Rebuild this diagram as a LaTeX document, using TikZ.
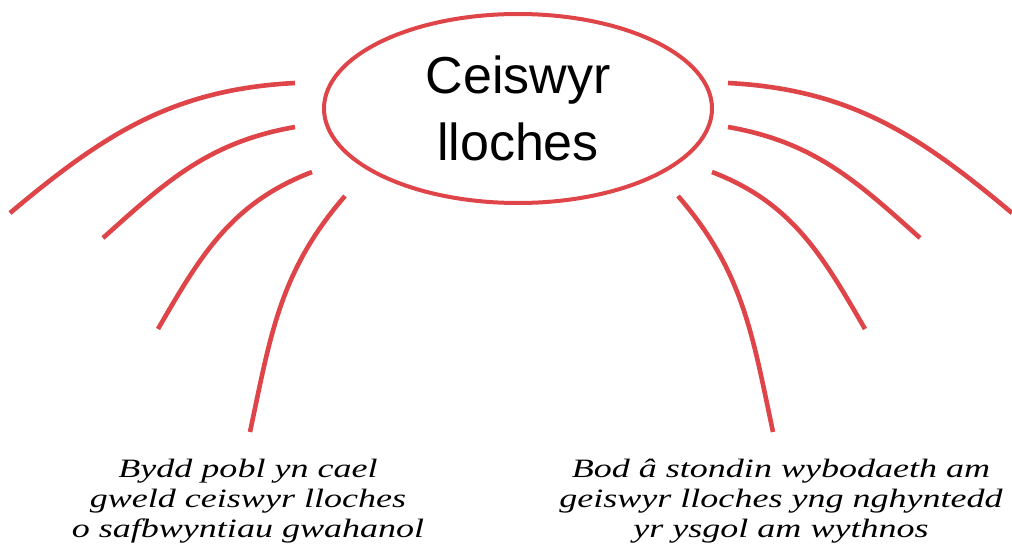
\documentclass[tikz,border=0pt]{standalone}
\usepackage{fontspec}
\usetikzlibrary{positioning, shapes.geometric, calc}
\setsansfont{Liberation Sans}
\newfontfamily\handfont[FakeStretch=1.36]{Liberation Serif Italic}
\definecolor{lochred}{RGB}{222,68,72}

\begin{document}
\begin{tikzpicture}[
    x=1pt, y=1pt,
    every node/.style={inner sep=0pt},
    hub/.style={draw=lochred, line width=4pt, ellipse, minimum width=388pt,
                minimum height=189pt, align=center,
                font=\sffamily\fontsize{52}{67}\selectfont},
    ray/.style={draw=lochred, line width=4.6pt},
    note/.style={align=center, font=\handfont\fontsize{26.5}{30}\selectfont}]
  \useasboundingbox (0,0) rectangle (1012,-546);
  % --- canol: yr elips ---
  \node[hub] (ceiswyr) at (518,-108.5) {Ceiswyr\\lloches};
  % --- pennau'r llinellau ---
  \coordinate (la1) at (295,-83);  \coordinate (lb1) at (10,-213);
  \coordinate (la2) at (295,-127); \coordinate (lb2) at (103,-238);
  \coordinate (la3) at (312,-172); \coordinate (lb3) at (158,-329);
  \coordinate (la4) at (345,-196); \coordinate (lb4) at (250,-432);
  \coordinate (ra1) at (728,-83);  \coordinate (rb1) at (1012,-213);
  \coordinate (ra2) at (728,-127); \coordinate (rb2) at (920,-238);
  \coordinate (ra3) at (712,-172); \coordinate (rb3) at (865,-329);
  \coordinate (ra4) at (678,-196); \coordinate (rb4) at (773,-432);
  % --- testun isod ---
  \node[note] (pobl) at (248,-501) {Bydd pobl yn cael\\gweld ceiswyr lloches\\o safbwyntiau gwahanol};
  \node[note] (stondin) at (781,-501) {Bod â stondin wybodaeth am\\geiswyr lloches yng nghyntedd\\yr ysgol am wythnos};

  % --- ochr chwith ---
  \draw[ray] (la1) to[out=183,in=40] (lb1);
  \draw[ray] (la2) to[out=190,in=42] (lb2);
  \draw[ray] (la3) to[out=201,in=60] (lb3);
  \draw[ray] (la4) to[out=229,in=78] (lb4);
  % --- ochr dde ---
  \draw[ray] (ra1) to[out=-3,in=140] (rb1);
  \draw[ray] (ra2) to[out=-10,in=138] (rb2);
  \draw[ray] (ra3) to[out=-21,in=120] (rb3);
  \draw[ray] (ra4) to[out=-49,in=102] (rb4);
\end{tikzpicture}
\end{document}
